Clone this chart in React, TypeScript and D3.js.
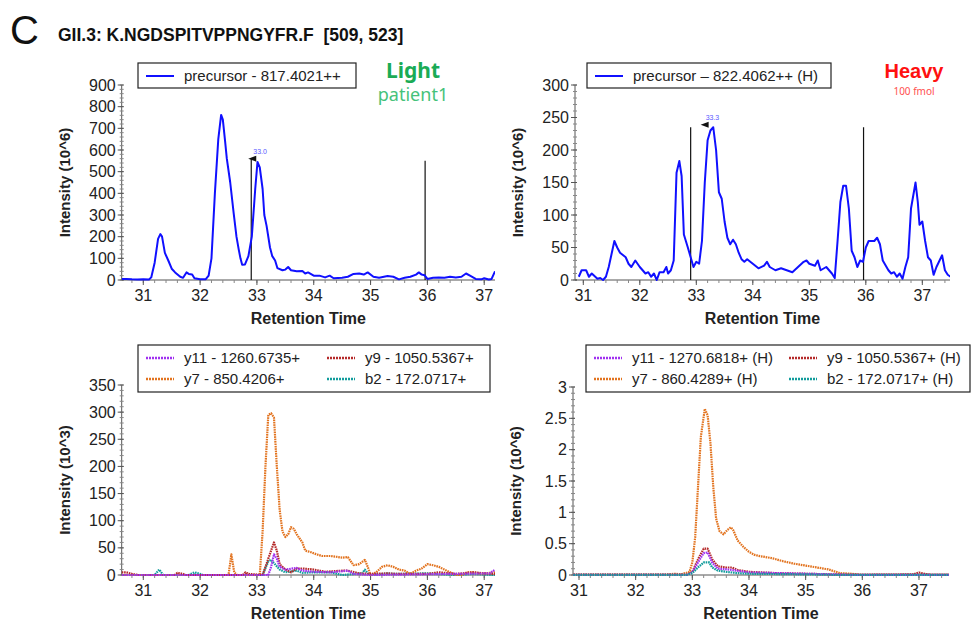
import React from 'react'
import * as d3 from 'd3'

const FONT = '"Liberation Sans", Arial, Helvetica, sans-serif'
const LABEL_FONT = '"Noto Sans", "Open Sans", sans-serif'

// [retention time (min), intensity]
const lightPrecursor: [number, number][] = [
  [30.62, 5], [30.7, 5], [30.8, 3], [30.9, 2], [31.0, 3], [31.1, 2], [31.14, 12], [31.2, 80],
  [31.26, 190], [31.3, 212], [31.33, 200], [31.38, 125], [31.44, 90], [31.5, 52], [31.56, 35],
  [31.65, 15], [31.7, 10], [31.76, 35], [31.8, 28], [31.86, 25], [31.9, 8], [32.0, 3], [32.1, 4],
  [32.15, 20], [32.2, 100], [32.26, 400], [32.32, 650], [32.37, 762], [32.4, 740], [32.44, 640],
  [32.47, 560], [32.53, 450], [32.59, 310], [32.64, 200], [32.68, 140], [32.71, 100], [32.74, 70],
  [32.79, 72], [32.85, 110], [32.91, 200], [32.97, 420], [33.01, 545], [33.05, 520], [33.1, 420],
  [33.13, 300], [33.17, 250], [33.23, 150], [33.27, 110], [33.32, 90], [33.36, 55], [33.45, 45],
  [33.5, 48], [33.55, 60], [33.6, 45], [33.7, 40], [33.8, 42], [33.85, 30], [33.9, 35], [34.0, 20],
  [34.1, 20], [34.2, 12], [34.28, 20], [34.35, 8], [34.5, 10], [34.6, 15], [34.7, 28], [34.8, 30],
  [34.88, 25], [34.95, 35], [35.05, 15], [35.15, 10], [35.3, 18], [35.4, 15], [35.5, 3], [35.6, 10],
  [35.7, 15], [35.8, 25], [35.85, 35], [35.9, 25], [35.95, 22], [36.0, 5], [36.1, 10], [36.2, 12],
  [36.3, 10], [36.4, 15], [36.5, 12], [36.6, 15], [36.68, 30], [36.75, 20], [36.85, 5], [36.95, 3],
  [37.0, 8], [37.08, 2], [37.13, 5], [37.19, 40],
]

const heavyPrecursor: [number, number][] = [
  [30.92, 5], [30.97, 15], [31.05, 15], [31.1, 5], [31.15, 10], [31.25, 2], [31.3, 3], [31.35, 0],
  [31.4, 5], [31.45, 20], [31.5, 40], [31.55, 60], [31.6, 50], [31.65, 42], [31.75, 35], [31.8, 25],
  [31.85, 20], [31.92, 30], [32.0, 20], [32.05, 15], [32.1, 10], [32.15, 12], [32.2, 5], [32.25, 10],
  [32.3, 0], [32.35, 12], [32.42, 12], [32.47, 20], [32.5, 10], [32.55, 15], [32.6, 30], [32.65, 165],
  [32.7, 183], [32.74, 160], [32.78, 70], [32.85, 50], [32.9, 35], [32.95, 20], [33.0, 28],
  [33.05, 25], [33.1, 60], [33.15, 150], [33.2, 215], [33.25, 230], [33.3, 235], [33.35, 200],
  [33.4, 135], [33.45, 125], [33.5, 90], [33.55, 65], [33.6, 55], [33.65, 62], [33.7, 55],
  [33.75, 42], [33.8, 32], [33.85, 28], [33.9, 32], [34.0, 25], [34.1, 18], [34.2, 22], [34.25, 28],
  [34.3, 20], [34.4, 15], [34.5, 18], [34.6, 15], [34.7, 12], [34.8, 20], [34.9, 28], [34.95, 30],
  [35.0, 25], [35.1, 22], [35.15, 30], [35.2, 15], [35.3, 20], [35.4, 10], [35.45, 3], [35.5, 60],
  [35.55, 120], [35.6, 145], [35.65, 145], [35.7, 110], [35.75, 45], [35.8, 35], [35.85, 20],
  [35.9, 30], [35.95, 28], [36.0, 50], [36.05, 60], [36.15, 60], [36.2, 65], [36.25, 55], [36.3, 30],
  [36.4, 15], [36.45, 10], [36.5, 12], [36.55, 5], [36.6, 10], [36.65, 2], [36.7, 20], [36.75, 35],
  [36.8, 110], [36.88, 150], [36.92, 120], [36.95, 85], [37.0, 90], [37.05, 60], [37.1, 35],
  [37.15, 30], [37.2, 8], [37.25, 20], [37.35, 38], [37.4, 15], [37.45, 8], [37.5, 5],
]

// fragments, light (10^3)
const lightY7: [number, number][] = [
  [30.62, 0], [32.5, 0], [32.55, 38], [32.6, 5], [32.65, 0], [33.05, 0], [33.1, 80], [33.15, 200],
  [33.2, 295], [33.25, 298], [33.3, 290], [33.35, 200], [33.4, 120], [33.45, 80], [33.5, 70],
  [33.55, 75], [33.6, 88], [33.65, 85], [33.7, 75], [33.8, 60], [33.85, 45], [33.95, 42], [34.05, 38],
  [34.15, 35], [34.3, 35], [34.5, 32], [34.6, 33], [34.7, 18], [34.8, 20], [34.9, 28], [34.95, 15],
  [35.0, 0], [35.1, 5], [35.2, 15], [35.3, 18], [35.4, 15], [35.5, 10], [35.6, 8], [35.7, 2],
  [35.8, 8], [35.9, 12], [36.0, 20], [36.1, 18], [36.2, 15], [36.3, 10], [36.4, 5], [36.5, 0],
  [36.6, 0], [36.7, 5], [36.8, 5], [36.9, 3], [37.0, 3], [37.19, 5],
]
const lightY9: [number, number][] = [
  [30.62, 5], [30.7, 5], [30.8, 2], [30.9, 0], [31.55, 0], [31.6, 4], [31.7, 2], [31.75, 0],
  [32.75, 0], [32.8, 5], [32.85, 2], [33.1, 0], [33.2, 30], [33.3, 60], [33.35, 45], [33.4, 20],
  [33.5, 10], [33.6, 5], [33.7, 12], [33.8, 12], [34.0, 10], [34.2, 6], [34.5, 8], [34.6, 8],
  [34.8, 3], [35.0, 2], [35.3, 3], [35.5, 2], [36.0, 2], [36.2, 5], [36.5, 2], [36.8, 5], [37.0, 3],
  [37.19, 2],
]
const lightY11: [number, number][] = [
  [30.62, 0], [33.2, 0], [33.25, 15], [33.3, 38], [33.35, 30], [33.4, 15], [33.5, 10], [33.7, 13],
  [33.8, 8], [34.0, 6], [34.3, 5], [34.6, 8], [34.7, 2], [35.0, 0], [37.1, 3], [37.19, 10],
]
const lightB2: [number, number][] = [
  [30.62, 0], [31.2, 0], [31.28, 10], [31.35, 0], [31.8, 0], [31.9, 5], [32.0, 2], [32.05, 0],
  [33.1, 0], [33.2, 25], [33.25, 28], [33.3, 22], [33.4, 10], [33.5, 5], [33.7, 8], [33.8, 4],
  [34.0, 5], [34.3, 5], [34.5, 0], [34.85, 3], [34.9, 10], [34.95, 3], [35.0, 0], [35.3, 3],
  [35.4, 2], [36.0, 3], [36.5, 0], [36.8, 2], [37.19, 0],
]

// fragments, heavy (10^6)
const heavyY7: [number, number][] = [
  [30.9, 0.005], [32.5, 0.005], [32.7, 0.02], [32.8, 0.01], [32.95, 0.05], [33.0, 0.2], [33.05, 0.6],
  [33.1, 1.4], [33.15, 2.2], [33.22, 2.65], [33.27, 2.55], [33.32, 2.1], [33.37, 1.4], [33.42, 0.9],
  [33.48, 0.7], [33.55, 0.65], [33.62, 0.72], [33.68, 0.76], [33.72, 0.72], [33.8, 0.55], [33.9, 0.45],
  [34.0, 0.37], [34.1, 0.32], [34.2, 0.3], [34.4, 0.27], [34.6, 0.22], [34.8, 0.18], [35.0, 0.15],
  [35.2, 0.12], [35.4, 0.09], [35.5, 0.06], [35.6, 0.03], [35.8, 0.02], [36.0, 0.005], [37.53, 0.005],
]
const heavyY9: [number, number][] = [
  [30.9, 0.005], [32.9, 0.005], [33.0, 0.05], [33.1, 0.25], [33.2, 0.42], [33.27, 0.42], [33.35, 0.25],
  [33.45, 0.14], [33.6, 0.12], [33.7, 0.12], [33.8, 0.08], [34.0, 0.05], [34.5, 0.03], [35.0, 0.02],
  [35.5, 0.01], [36.0, 0.003], [36.9, 0.01], [37.0, 0.04], [37.1, 0.02], [37.2, 0.003], [37.53, 0.003],
]
const heavyY11: [number, number][] = [
  [30.9, 0.002], [32.9, 0.002], [33.0, 0.04], [33.1, 0.2], [33.2, 0.35], [33.27, 0.36], [33.35, 0.2],
  [33.45, 0.1], [33.6, 0.09], [33.7, 0.08], [33.85, 0.06], [34.0, 0.04], [34.5, 0.03], [35.0, 0.02],
  [35.5, 0.01], [35.8, 0.002], [37.53, 0.002],
]
const heavyB2: [number, number][] = [
  [30.9, 0.003], [32.9, 0.003], [33.0, 0.03], [33.1, 0.12], [33.2, 0.2], [33.3, 0.2], [33.35, 0.12],
  [33.45, 0.07], [33.6, 0.05], [33.8, 0.03], [34.0, 0.02], [35.0, 0.01], [35.6, 0.002], [37.53, 0.002],
]

const BLUE = '#1010ff'
const PURPLE = '#a030f0'
const RED = '#b52a2a'
const ORANGE = '#e2731f'
const TEAL = '#119c9c'

type Series = { label: string; color: string; dotted: boolean; data: [number, number][] }

type PanelProps = {
  left: number
  right: number
  top: number
  bottom: number
  xDomain: [number, number]
  yMax: number
  yStep: number
  yMinor: number
  yLabel: string
  series: Series[]
  drawOrder?: number[]
  markers?: [number, number][]
  apex?: { x: number; y: number; text: string }
  legend: { x: number; y: number; w: number; h: number; cols: number; colW: number }
}

const Panel = (p: PanelProps) => {
  const x = d3.scaleLinear().domain(p.xDomain).range([p.left, p.right])
  const y = d3.scaleLinear().domain([0, p.yMax]).range([p.bottom, p.top])
  const line = d3.line<[number, number]>().x(d => x(d[0])).y(d => y(d[1]))
  const yTicks = d3.range(0, p.yMax + p.yStep / 2, p.yStep)
  const yMinors = d3.range(0, p.yMax + p.yMinor / 2, p.yMinor)
  const xTicks = d3.range(Math.ceil(p.xDomain[0]), p.xDomain[1] + 0.001, 1)
  const xMinors = d3.range(Math.ceil(p.xDomain[0] * 5) / 5, p.xDomain[1], 0.2)
  const clipId = `clip-${p.left}-${p.top}`
  const order = p.drawOrder ?? p.series.map((_, i) => i)
  const fmt = (v: number) => String(+v.toFixed(2))

  return (
    <g>
      <defs>
        <clipPath id={clipId}>
          <rect x={p.left} y={p.top - 10} width={p.right - p.left} height={p.bottom - p.top + 12} />
        </clipPath>
      </defs>

      {/* y axis */}
      <line x1={p.left} x2={p.left} y1={p.top} y2={p.bottom} stroke="#555" />
      {yMinors.map((v, i) => (
        <line key={'ym' + i} x1={p.left - 2} x2={p.left + 2} y1={y(v)} y2={y(v)} stroke="#888" />
      ))}
      {yTicks.map((v, i) => (
        <g key={'y' + i}>
          <line x1={p.left - 4} x2={p.left + 2} y1={y(v)} y2={y(v)} stroke="#555" />
          <text x={p.left - 6} y={y(v)} dy="0.35em" textAnchor="end" fontSize={16} fill="#222">
            {fmt(v)}
          </text>
        </g>
      ))}
      <text
        transform={`translate(${p.left - 52},${(p.top + p.bottom) / 2}) rotate(-90)`}
        textAnchor="middle" fontSize={15} fontWeight="bold" fill="#222"
      >
        {p.yLabel}
      </text>

      {/* x axis */}
      <line x1={p.left} x2={p.right} y1={p.bottom} y2={p.bottom} stroke="#555" />
      {xMinors.map((v, i) => (
        <line key={'xm' + i} x1={x(v)} x2={x(v)} y1={p.bottom} y2={p.bottom + 3} stroke="#888" />
      ))}
      {xTicks.map((v, i) => (
        <g key={'x' + i}>
          <line x1={x(v)} x2={x(v)} y1={p.bottom} y2={p.bottom + 5} stroke="#555" />
          <text x={x(v)} y={p.bottom + 21} textAnchor="middle" fontSize={16} fill="#222">
            {v}
          </text>
        </g>
      ))}
      <text x={(p.left + p.right) / 2} y={p.bottom + 44} textAnchor="middle" fontSize={16} fontWeight="bold" fill="#222">
        Retention Time
      </text>

      {/* markers */}
      {(p.markers ?? []).map(([t, v], i) => (
        <line key={'mk' + i} x1={x(t)} x2={x(t)} y1={p.bottom} y2={y(v)} stroke="#111" strokeWidth={1.2} />
      ))}

      {/* traces */}
      <g clipPath={`url(#${clipId})`}>
        {order.map(i => {
          const s = p.series[i]
          return (
            <path
              key={s.label}
              d={line(s.data) ?? ''}
              fill="none"
              stroke={s.color}
              strokeWidth={s.dotted ? 2.2 : 2}
              strokeDasharray={s.dotted ? '1.6 0.8' : undefined}
              strokeLinejoin="round"
            />
          )
        })}
      </g>

      {/* apex annotation */}
      {p.apex && (
        <g>
          <path
            d={`M${x(p.apex.x) - 3},${y(p.apex.y)} l8,-3 l0,6 z`}
            fill="#111"
          />
          <text x={x(p.apex.x) + 2} y={y(p.apex.y) - 5} fontSize={7} fill="#5a5aff">
            {p.apex.text}
          </text>
        </g>
      )}

      {/* legend */}
      <rect x={p.legend.x} y={p.legend.y} width={p.legend.w} height={p.legend.h} fill="#fff" stroke="#222" strokeWidth={1.2} />
      {p.series.map((s, i) => {
        const col = i % p.legend.cols
        const row = Math.floor(i / p.legend.cols)
        const lx = p.legend.x + 8 + col * p.legend.colW
        const ly = p.legend.y + 13 + row * 21
        return (
          <g key={'lg' + i}>
            <line
              x1={lx} x2={lx + 28} y1={ly} y2={ly}
              stroke={s.color} strokeWidth={s.dotted ? 2.5 : 2}
              strokeDasharray={s.dotted ? '2 1' : undefined}
            />
            <text x={lx + 38} y={ly} dy="0.35em" fontSize={15} fill="#222">
              {s.label}
            </text>
          </g>
        )
      })}
    </g>
  )
}

const App = () => {
  return (
    <svg width={978} height={624} style={{ position: 'absolute', left: 0, top: 0, fontFamily: FONT }}>
      <rect width={978} height={624} fill="#fff" />
      <text x={10} y={44} fontSize={40} fill="#111">C</text>
      <text x={58} y={41} fontSize={17.5} fontWeight="bold" fill="#111">
        GII.3: K.NGDSPITVPPNGYFR.F{'\u00a0\u00a0'}[509, 523]
      </text>

      <Panel
        left={121.7} right={495} top={85} bottom={280}
        xDomain={[30.62, 37.19]} yMax={900} yStep={100} yMinor={20}
        yLabel="Intensity (10^6)"
        series={[{ label: 'precursor - 817.4021++', color: BLUE, dotted: false, data: lightPrecursor }]}
        markers={[[32.9, 560], [35.96, 550]]}
        apex={{ x: 32.9, y: 560, text: '33.0' }}
        legend={{ x: 138, y: 63, w: 218, h: 25, cols: 1, colW: 0 }}
      />
      <text x={413} y={78} textAnchor="middle" fontSize={21} fontWeight="bold" fill="#1aab56" fontFamily={LABEL_FONT}>Light</text>
      <text x={413} y={101} textAnchor="middle" fontSize={18} fill="#45c27a" fontFamily={LABEL_FONT}>patient1</text>

      <Panel
        left={575} right={950} top={85} bottom={280}
        xDomain={[30.853, 37.49]} yMax={300} yStep={50} yMinor={10}
        yLabel="Intensity (10^6)"
        series={[{ label: 'precursor \u2013 822.4062++ (H)', color: BLUE, dotted: false, data: heavyPrecursor }]}
        markers={[[32.9, 235], [35.96, 235]]}
        apex={{ x: 33.13, y: 239, text: '33.3' }}
        legend={{ x: 587, y: 63, w: 244, h: 25, cols: 1, colW: 0 }}
      />
      <text x={914} y={78} textAnchor="middle" fontSize={20} fontWeight="bold" fill="#ff1010">Heavy</text>
      <text x={914} y={95} textAnchor="middle" fontSize={10} fill="#ff5050" fontFamily={LABEL_FONT}>100 fmol</text>

      <Panel
        left={121.7} right={495} top={385} bottom={575}
        xDomain={[30.62, 37.19]} yMax={350} yStep={50} yMinor={10}
        yLabel="Intensity (10^3)"
        series={[
          { label: 'y11 - 1260.6735+', color: PURPLE, dotted: true, data: lightY11 },
          { label: 'y9 - 1050.5367+', color: RED, dotted: true, data: lightY9 },
          { label: 'y7 - 850.4206+', color: ORANGE, dotted: true, data: lightY7 },
          { label: 'b2 - 172.0717+', color: TEAL, dotted: true, data: lightB2 },
        ]}
        drawOrder={[3, 2, 1, 0]}
        legend={{ x: 138, y: 345, w: 352, h: 47, cols: 2, colW: 181 }}
      />

      <Panel
        left={573} right={949} top={387} bottom={575}
        xDomain={[30.894, 37.53]} yMax={3} yStep={0.5} yMinor={0.1}
        yLabel="Intensity (10^6)"
        series={[
          { label: 'y11 - 1270.6818+ (H)', color: PURPLE, dotted: true, data: heavyY11 },
          { label: 'y9 - 1050.5367+ (H)', color: RED, dotted: true, data: heavyY9 },
          { label: 'y7 - 860.4289+ (H)', color: ORANGE, dotted: true, data: heavyY7 },
          { label: 'b2 - 172.0717+ (H)', color: TEAL, dotted: true, data: heavyB2 },
        ]}
        drawOrder={[2, 1, 0, 3]}
        legend={{ x: 586, y: 345, w: 384, h: 47, cols: 2, colW: 195 }}
      />
    </svg>
  )
}

export default App
